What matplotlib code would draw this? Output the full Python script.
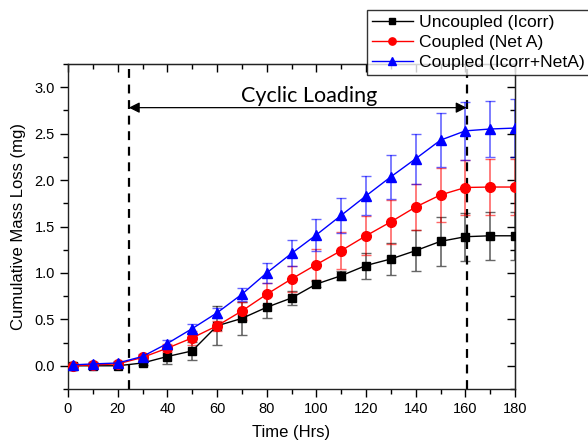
import matplotlib
matplotlib.use("Agg")
import matplotlib.pyplot as plt
from matplotlib.ticker import MultipleLocator

t = [2, 10, 20, 30, 40, 50, 60, 70, 80, 90, 100, 110, 120, 130, 140, 150, 160, 170, 180]
uncoupled = [0.0, 0.0, 0.0, 0.03, 0.10, 0.16, 0.43, 0.51, 0.63, 0.73, 0.88, 0.97, 1.08, 1.15, 1.24, 1.34, 1.39, 1.40, 1.40]
uncoupled_err = [0.01, 0.01, 0.01, 0.02, 0.08, 0.10, 0.21, 0.18, 0.12, 0.08, 0.03, 0.05, 0.14, 0.17, 0.22, 0.26, 0.26, 0.26, 0.26]
coupled_neta = [0.0, 0.01, 0.02, 0.09, 0.19, 0.30, 0.43, 0.59, 0.77, 0.935, 1.09, 1.24, 1.40, 1.55, 1.71, 1.84, 1.92, 1.925, 1.925]
coupled_neta_err = [0.01, 0.01, 0.02, 0.03, 0.04, 0.08, 0.05, 0.10, 0.12, 0.14, 0.17, 0.20, 0.21, 0.24, 0.25, 0.29, 0.30, 0.30, 0.30]
coupled_both = [0.01, 0.02, 0.03, 0.10, 0.24, 0.40, 0.57, 0.77, 1.0, 1.21, 1.41, 1.62, 1.83, 2.035, 2.23, 2.43, 2.53, 2.55, 2.56]
coupled_both_err = [0.02, 0.02, 0.02, 0.03, 0.04, 0.05, 0.05, 0.07, 0.11, 0.14, 0.17, 0.19, 0.21, 0.24, 0.27, 0.29, 0.31, 0.30, 0.31]
labels = ["Uncoupled (Icorr)", "Coupled (Net A)", "Coupled (Icorr+NetA)"]
loading_start, loading_end = 24.5, 160.5
loading_label = "Cyclic Loading"

plt.rcParams['font.family'] = ['Liberation Sans', 'DejaVu Sans']

fig = plt.figure(figsize=(5.88, 4.44), dpi=100)
ax = fig.add_axes([68/588, 55/444, 447/588, 325/444])

series = [
    (uncoupled, uncoupled_err, 'black', 's', 6),
    (coupled_neta, coupled_neta_err, 'red', 'o', 7),
    (coupled_both, coupled_both_err, 'blue', '^', 7.5),
]
handles = []
for (vals, err, c, m, ms), lab in zip(series, labels):
    ax.errorbar(t, vals, yerr=err, fmt='none', ecolor=c, elinewidth=1.2,
                capsize=3.5, capthick=1.0, alpha=0.6, zorder=2)
    h, = ax.plot(t, vals, color=c, marker=m, markersize=ms, linewidth=1.0,
                 label=lab, zorder=3)
    handles.append(h)

ax.set_xlim(0, 180)
ax.set_ylim(-0.25, 3.25)
ax.xaxis.set_major_locator(MultipleLocator(20))
ax.xaxis.set_minor_locator(MultipleLocator(10))
ax.yaxis.set_major_locator(MultipleLocator(0.5))
ax.yaxis.set_minor_locator(MultipleLocator(0.25))
ax.yaxis.set_major_formatter(matplotlib.ticker.FormatStrFormatter('%.1f'))
ax.tick_params(which='major', direction='out', length=6, width=1, labelsize=10.5)
ax.tick_params(which='minor', direction='out', length=3.5, width=1)
for s in ax.spines.values():
    s.set_linewidth(1.0)
    s.set_color('#222222')

secx = ax.secondary_xaxis('top')
secx.xaxis.set_major_locator(MultipleLocator(20))
secx.xaxis.set_minor_locator(MultipleLocator(10))
secx.tick_params(which='major', direction='in', length=6, width=1, labeltop=False)
secx.tick_params(which='minor', direction='in', length=3.5, width=1)
secy = ax.secondary_yaxis('right')
secy.yaxis.set_major_locator(MultipleLocator(0.5))
secy.yaxis.set_minor_locator(MultipleLocator(0.25))
secy.tick_params(which='major', direction='in', length=6, width=1, labelright=False)
secy.tick_params(which='minor', direction='in', length=3.5, width=1)

ax.set_xlabel("Time (Hrs)", fontsize=12, labelpad=6)
ax.set_ylabel("Cumulative Mass Loss (mg)", fontsize=12, labelpad=6)

ax.axvline(loading_start, color='black', linestyle=(0, (4, 3)), linewidth=1.6, zorder=1)
ax.axvline(loading_end, color='black', linestyle=(0, (4, 3)), linewidth=1.6, zorder=1)
ax.annotate('', xy=(loading_start, 2.78), xytext=(loading_end, 2.78),
            arrowprops=dict(arrowstyle='<|-|>', color='black', lw=0.9,
                            mutation_scale=16, shrinkA=0, shrinkB=0))
ax.text(97, 2.84, loading_label,
        fontsize=15.5, family=['Lato', 'DejaVu Sans'], ha='center', va='baseline')

leg = fig.legend(handles=handles, loc='upper left', bbox_to_anchor=(367/588, 1 - 10/444),
                 fontsize=12.6, frameon=True, fancybox=False, edgecolor='black',
                 borderpad=0.3, labelspacing=0.25, handlelength=2.3,
                 handletextpad=0.35, borderaxespad=0, markerscale=0.75)
leg.get_frame().set_linewidth(1.0)
leg.set_zorder(10)

fig.savefig("out.png", dpi=100)
